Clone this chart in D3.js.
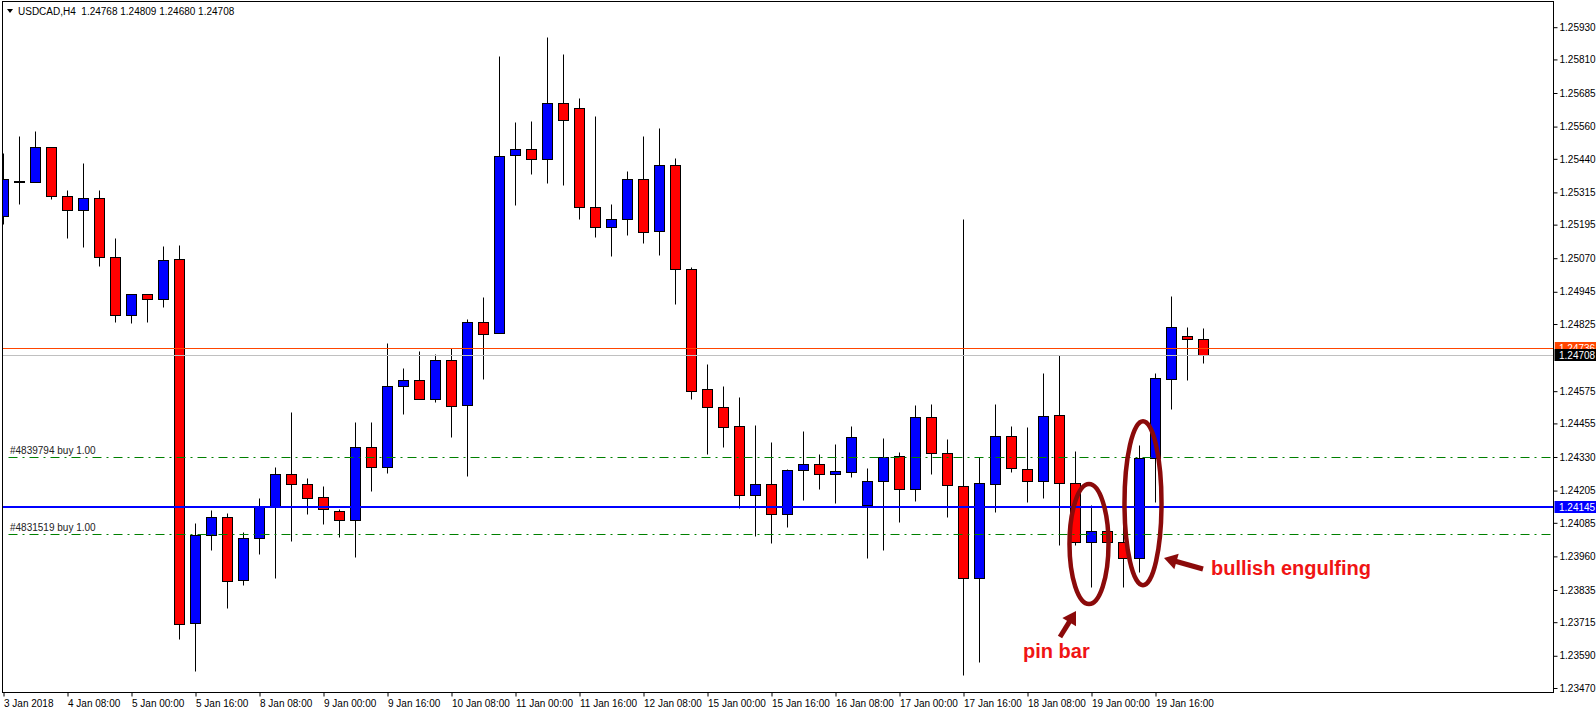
<!DOCTYPE html>
<html><head><meta charset="utf-8">
<script src="https://cdn.jsdelivr.net/npm/d3@7"></script>
<style>
html,body{margin:0;padding:0;background:#fff;}
svg{display:block;}
text{font-family:"Liberation Sans",Arial,sans-serif;}
</style></head><body>
<svg id="chart" width="1596" height="714"></svg>
<script>
// ---------- DATA ----------
const symbolTitle = "USDCAD,H4  1.24768 1.24809 1.24680 1.24708";
const timeLabels = ["3 Jan 2018","4 Jan 08:00","5 Jan 00:00","5 Jan 16:00","8 Jan 08:00","9 Jan 00:00","9 Jan 16:00","10 Jan 08:00","11 Jan 00:00","11 Jan 16:00","12 Jan 08:00","15 Jan 00:00","15 Jan 16:00","16 Jan 08:00","17 Jan 00:00","17 Jan 16:00","18 Jan 08:00","19 Jan 00:00","19 Jan 16:00"];
const timeLabelBars = [0,4,8,12,16,20,24,28,32,36,40,44,48,52,56,60,64,68,72];
const opens = [1.25229,1.25359,1.25352,1.25485,1.25302,1.25248,1.25295,1.25074,1.24857,1.24936,
 1.24917,1.25066,1.23712,1.24041,1.24105,1.23872,1.24028,1.24145,1.24265,1.24229,
 1.24180,1.24130,1.24095,1.24369,1.24292,1.24593,1.24615,1.24545,1.24690,1.24522,
 1.24832,1.24790,1.25453,1.25476,1.25439,1.25648,1.25630,1.25260,1.25186,1.25216,
 1.25364,1.25171,1.25417,1.25030,1.24583,1.24516,1.24444,1.24187,1.24228,1.24116,
 1.24280,1.24303,1.24265,1.24273,1.24150,1.24239,1.24332,1.24210,1.24478,1.24344,
 1.24222,1.23878,1.24228,1.24407,1.24284,1.24239,1.24485,1.24232,1.24012,1.24053,
 1.24012,1.23953,1.24325,1.24619,1.24779,1.24768];
const highs = [1.25463,1.25525,1.25545,1.25485,1.25324,1.25425,1.25324,1.25146,1.24938,1.24938,
 1.25115,1.25119,1.24084,1.24134,1.24121,1.24052,1.24178,1.24291,1.24497,1.24251,
 1.24221,1.24136,1.24460,1.24460,1.24756,1.24663,1.24723,1.24712,1.24736,1.24845,
 1.24925,1.25824,1.25578,1.25582,1.25895,1.25831,1.25668,1.25600,1.25273,1.25396,
 1.25526,1.25553,1.25444,1.25036,1.24677,1.24595,1.24553,1.24449,1.24386,1.24286,
 1.24427,1.24341,1.24378,1.24445,1.24289,1.24401,1.24347,1.24524,1.24527,1.24397,
 1.25215,1.24331,1.24527,1.24445,1.24442,1.24643,1.24710,1.24352,1.24151,1.24053,
 1.24201,1.24375,1.24643,1.24929,1.24814,1.24809];
const lows = [1.25197,1.25272,1.25352,1.25290,1.25146,1.25110,1.25042,1.24833,1.24827,1.24831,
 1.24890,1.23653,1.23535,1.23984,1.23768,1.23852,1.23970,1.23879,1.24016,1.24118,
 1.24079,1.24032,1.23959,1.24205,1.24271,1.24490,1.24545,1.24533,1.24404,1.24258,
 1.24622,1.24790,1.25267,1.25382,1.25349,1.25344,1.25216,1.25148,1.25077,1.25155,
 1.25126,1.25081,1.24901,1.24545,1.24340,1.24369,1.24140,1.24037,1.24011,1.24071,
 1.24171,1.24212,1.24160,1.24257,1.23955,1.23984,1.24089,1.24167,1.24268,1.24108,
 1.23518,1.23568,1.24126,1.24275,1.24164,1.24179,1.24001,1.24001,1.23847,1.24012,
 1.23847,1.23903,1.24164,1.24510,1.24615,1.24680];
const closes = [1.25366,1.25352,1.25485,1.25300,1.25248,1.25295,1.25074,1.24857,1.24936,1.24917,
 1.25062,1.23708,1.24041,1.24105,1.23868,1.24028,1.24145,1.24265,1.24229,1.24177,
 1.24136,1.24095,1.24369,1.24292,1.24593,1.24615,1.24545,1.24690,1.24518,1.24834,
 1.24789,1.25450,1.25476,1.25439,1.25648,1.25583,1.25260,1.25186,1.25216,1.25364,
 1.25167,1.25417,1.25030,1.24576,1.24516,1.24441,1.24189,1.24228,1.24116,1.24280,
 1.24303,1.24265,1.24277,1.24403,1.24239,1.24329,1.24210,1.24478,1.24344,1.24224,
 1.23878,1.24232,1.24407,1.24288,1.24239,1.24481,1.24232,1.24012,1.24053,1.24012,
 1.23953,1.24325,1.24623,1.24813,1.24768,1.24708];
const priceTicks = [1.25930,1.25810,1.25685,1.25560,1.25440,1.25315,1.25195,1.25070,1.24945,1.24825,
 1.24575,1.24455,1.24330,1.24205,1.24085,1.23960,1.23835,1.23715,1.23590,1.23470];
const askPrice = 1.24736;
const bidPrice = 1.24708;
const levelPrice = 1.24145;
const orderLabels = ["#4839794 buy 1.00","#4831519 buy 1.00"];
const orderPrices = [1.24330, 1.24045];
const annotationTexts = ["pin bar","bullish engulfing"];
const annotationBars = [68, 71];

// ---------- LAYOUT ----------
const plotL = 2.5, plotT = 1.5, plotR = 1553.5, plotB = 692.5;
const svg = d3.select("#chart");
const x = d3.scaleLinear().domain([0, 1]).range([3.5, 19.5]);
const y = d3.scaleLinear().domain([1.23470, 1.25930]).range([688, 27.2]);
const sy = p => Math.round(y(p)) + 0.5;

svg.append("defs").append("clipPath").attr("id","plotclip")
  .append("rect").attr("x",plotL+0.5).attr("y",plotT+0.5).attr("width",plotR-plotL-1).attr("height",plotB-plotT-1);

// candles
const data = opens.map((o,i)=>({i, o, h:highs[i], l:lows[i], c:closes[i]}));
const cg = svg.append("g").attr("clip-path","url(#plotclip)");
cg.selectAll("line.wick").data(data).join("line").attr("class","wick")
  .attr("x1",d=>x(d.i)).attr("x2",d=>x(d.i))
  .attr("y1",d=>sy(d.h)).attr("y2",d=>sy(d.l))
  .attr("stroke","#000").attr("stroke-width",1);
cg.selectAll("rect.body").data(data).join("rect").attr("class","body")
  .attr("x",d=>x(d.i)-5).attr("width",10)
  .attr("y",d=>sy(Math.max(d.o,d.c)))
  .attr("height",d=>Math.max(0, sy(Math.min(d.o,d.c)) - sy(Math.max(d.o,d.c))))
  .attr("fill",d=>d.c>=d.o ? "#0000ff" : "#ff0000")
  .attr("stroke","#000").attr("stroke-width",1);

// horizontal level lines
const lg = svg.append("g").attr("clip-path","url(#plotclip)");
lg.append("line").attr("x1",plotL).attr("x2",plotR).attr("y1",sy(bidPrice)).attr("y2",sy(bidPrice))
  .attr("stroke","#c0c0c0").attr("stroke-width",1);
lg.append("line").attr("x1",plotL).attr("x2",plotR).attr("y1",sy(askPrice)).attr("y2",sy(askPrice))
  .attr("stroke","#ff4500").attr("stroke-width",1);
orderPrices.forEach((p,k)=>{
  lg.append("line").attr("x1",plotL+6).attr("x2",plotR).attr("y1",sy(p)).attr("y2",sy(p))
    .attr("stroke","#008000").attr("stroke-width",1).attr("stroke-dasharray","9,5,2,5");
  lg.append("text").attr("x",10).attr("y",sy(p)-3.5).attr("font-size",10).attr("fill","#222")
    .text(orderLabels[k]);
});
lg.append("line").attr("x1",plotL).attr("x2",plotR).attr("y1",Math.round(y(levelPrice))).attr("y2",Math.round(y(levelPrice)))
  .attr("stroke","#0000ff").attr("stroke-width",2);

// frame
svg.append("rect").attr("x",plotL).attr("y",plotT).attr("width",plotR-plotL).attr("height",plotB-plotT)
  .attr("fill","none").attr("stroke","#000").attr("stroke-width",1);

// right axis
const yAxis = d3.axisRight(y).tickValues(priceTicks).tickFormat(d3.format(".5f")).tickSize(4).tickPadding(2);
const ya = svg.append("g").attr("transform",`translate(${plotR},0)`).call(yAxis);
ya.select(".domain").remove();
ya.selectAll(".tick line").attr("stroke","#000");
ya.selectAll(".tick text").attr("font-size",10).attr("fill","#000").attr("font-family","Liberation Sans, Arial, sans-serif");

// bottom axis
const xAxis = d3.axisBottom(x).tickValues(timeLabelBars).tickFormat((d,i)=>timeLabels[i]).tickSize(4).tickPadding(3);
const xa = svg.append("g").attr("transform",`translate(0,${plotB})`).call(xAxis);
xa.select(".domain").remove();
xa.selectAll(".tick line").attr("stroke","#000");
xa.selectAll(".tick text").attr("text-anchor","start").attr("x",0).attr("font-size",10).attr("fill","#000")
  .attr("font-family","Liberation Sans, Arial, sans-serif");

// price boxes on the axis (ask box partly covered by the bid box, as in the terminal)
svg.append("clipPath").attr("id","askclip").append("rect")
  .attr("x",plotR+1).attr("y",0).attr("width",50).attr("height",Math.round(y(bidPrice))-6);
function priceBox(p, bg, clip){
  const cy = y(p);
  const g = svg.append("g");
  if (clip) g.attr("clip-path","url(#askclip)");
  g.append("rect").attr("x",plotR+1).attr("y",Math.round(cy)-6).attr("width",1596-plotR-1).attr("height",12).attr("fill",bg);
  g.append("text").attr("x",plotR+5.5).attr("y",Math.round(cy)+4).attr("font-size",10).attr("fill","#fff").text(d3.format(".5f")(p));
}
priceBox(askPrice,"#ff4500",true);
priceBox(bidPrice,"#000000",false);
priceBox(levelPrice,"#0000ff",false);

// title
svg.append("path").attr("d","M7,9 L13,9 L10,13 Z").attr("fill","#000");
svg.append("text").attr("x",18).attr("y",15).attr("font-size",10).attr("fill","#000")
  .style("white-space","pre").attr("xml:space","preserve").text(symbolTitle);

// annotations
const dark = "#8b0a0a", red = "#f01414";
const ag = svg.append("g");
ag.append("ellipse").attr("cx",x(annotationBars[0])-2.5).attr("cy",y(1.24006)).attr("rx",19.5).attr("ry",60)
  .attr("fill","none").attr("stroke",dark).attr("stroke-width",4.5);
ag.append("ellipse").attr("cx",x(annotationBars[1])+3.5).attr("cy",y(1.24158)).attr("rx",18.5).attr("ry",82)
  .attr("fill","none").attr("stroke",dark).attr("stroke-width",4.5);
function arrow(tx,ty,hx,hy){
  const dx=hx-tx, dy=hy-ty, L=Math.hypot(dx,dy), ux=dx/L, uy=dy/L, nx=-uy, ny=ux;
  const hl=13, hw=16;
  const bx=hx-ux*hl, by=hy-uy*hl;
  ag.append("line").attr("x1",tx).attr("y1",ty).attr("x2",bx+ux*2).attr("y2",by+uy*2)
    .attr("stroke",dark).attr("stroke-width",5);
  ag.append("path").attr("d",`M${hx},${hy} L${bx+nx*hw/2},${by+ny*hw/2} L${bx-nx*hw/2},${by-ny*hw/2} Z`).attr("fill",dark);
}
arrow(1060,637,1076,611);
arrow(1203,569,1164,558);
ag.append("text").attr("x",1023).attr("y",658).attr("font-size",20).attr("font-weight",600)
  .attr("font-family","'Open Sans', sans-serif").attr("fill",red).text(annotationTexts[0]);
ag.append("text").attr("x",1211).attr("y",575).attr("font-size",20).attr("font-weight",600)
  .attr("font-family","'Open Sans', sans-serif").attr("fill",red).text(annotationTexts[1]);
</script>
</body></html>
